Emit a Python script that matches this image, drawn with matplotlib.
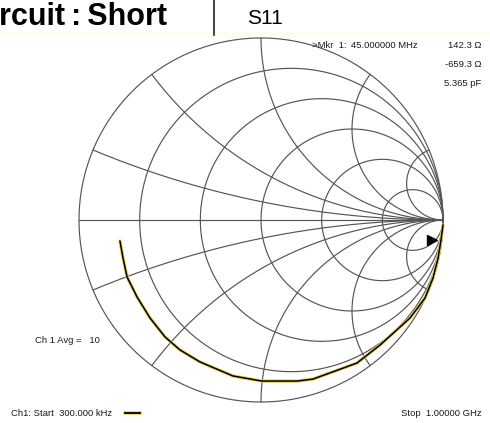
import numpy as np
import matplotlib
matplotlib.use("Agg")
import matplotlib.pyplot as plt

# ---- data ----
title_text = "rcuit\u2009:\u2009Short"
param_text = "S11"
marker_label = ">Mkr  1:"
marker_freq = "45.000000 MHz"
marker_values = ["142.3 Ω", "-659.3 Ω", "5.365 pF"]
avg_text = "Ch 1 Avg =   10"
start_text = "Ch1: Start  300.000 kHz"
stop_text = "Stop  1.00000 GHz"

# Smith chart grid values
r_circles = [0.2, 0.5, 1, 2, 5]
x_arcs = [0.2, 0.5, 1, 2, 5]

# measured trace (reflection coefficient, real / imag)
trace_re = [-0.775, -0.758, -0.736, -0.681, -0.610, -0.527, -0.445, -0.335, -0.154,
            0.005, 0.198, 0.286, 0.527, 0.654, 0.819, 0.901, 0.945, 0.973, 0.989, 1.0]
trace_im = [-0.115, -0.209, -0.313, -0.423, -0.538, -0.643, -0.714, -0.780, -0.857,
            -0.885, -0.885, -0.874, -0.786, -0.687, -0.538, -0.429, -0.319, -0.209, -0.110, -0.027]

marker_re = [0.94]
marker_im = [-0.11]

# ---- figure ----
W, H = 490, 423
fig = plt.figure(figsize=(W / 100, H / 100), dpi=100)
fig.patch.set_facecolor("white")
ax = fig.add_axes([0, 0, 1, 1])
ax.set_axis_off()

cx, cy, R = 261.0, 220.0, 182.0
ax.set_xlim((0 - cx) / R, (W - cx) / R)
ax.set_ylim((cy - H) / R, (cy - 0) / R)

def fx(px):
    return px / W

def fy(py):
    return 1 - py / H

grid_col = "#555555"
lw = 0.85

# faint cream band near top
ax.add_patch(plt.Rectangle(((0 - cx) / R, (cy - 38) / R), W / R, 6 / R,
                           color="#fffdf0", lw=0, zorder=0))

# outer circle
t = np.linspace(0, 2 * np.pi, 600)
ax.plot(np.cos(t), np.sin(t), color=grid_col, lw=lw)
# real axis
ax.plot([-1, 1], [0, 0], color=grid_col, lw=lw)

# constant resistance circles
for r in r_circles:
    c = r / (1 + r)
    rad = 1 / (1 + r)
    ax.plot(c + rad * np.cos(t), rad * np.sin(t), color=grid_col, lw=lw)

# constant reactance arcs
rr = np.concatenate([[0], np.logspace(-3, 4, 800)])
for xv in x_arcs:
    for s in (1, -1):
        z = rr + 1j * s * xv
        g = (z - 1) / (z + 1)
        ax.plot(g.real, g.imag, color=grid_col, lw=lw)

# trace
ax.plot(trace_re, trace_im, color="#e8cc60", lw=2.4, solid_capstyle="round", zorder=5)
ax.plot(trace_re, trace_im, color="black", lw=1.1, solid_capstyle="round", zorder=6)

# marker
ax.plot(marker_re, marker_im, marker=">", color="black", ms=7, ls="none", zorder=7)

# ---- texts ----
fig.text(fx(-1), fy(17), title_text, fontsize=22, fontweight="bold",
         family=["Liberation Sans", "DejaVu Sans"], ha="left", va="center", color="black")
fig.add_artist(plt.Line2D([fx(214), fx(214)], [fy(0), fy(35)], color="#222222", lw=1.2))
fig.text(fx(247), fy(18), param_text, fontsize=15, family="Liberation Sans",
         ha="left", va="center", color="black")

small = dict(fontsize=6.8, family="Liberation Sans", color="#1a1a1a", va="center")
fig.text(fx(312), fy(46), marker_label, ha="left", **small)
fig.text(fx(351), fy(46), marker_freq, ha="left", **small)
for i, v in enumerate(marker_values):
    fig.text(fx(481), fy(46 + 18.5 * i), v, ha="right", **small)

fig.text(fx(35), fy(340), avg_text, ha="left", **small)
fig.text(fx(11), fy(413), start_text, ha="left", **small)
fig.text(fx(482), fy(413), stop_text, ha="right", **small)

fig.add_artist(plt.Line2D([fx(125), fx(140)], [fy(413), fy(413)], color="#e8cc60", lw=2.6))
fig.add_artist(plt.Line2D([fx(125), fx(140)], [fy(413), fy(413)], color="black", lw=1.3))

fig.savefig("out.png", dpi=100, facecolor="white")
